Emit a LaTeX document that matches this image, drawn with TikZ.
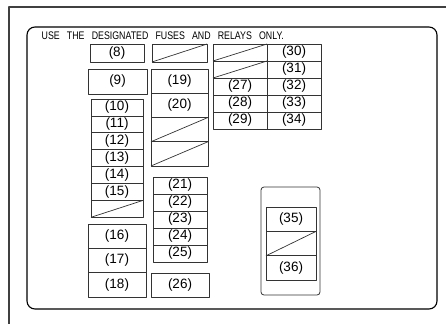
\documentclass[tikz,border=0pt]{standalone}
\usepackage{fontspec}
\setmainfont{Liberation Sans}
\usetikzlibrary{positioning}

\begin{document}
\begin{tikzpicture}[x=1pt, y=-1pt, line join=round,
    box/.style 2 args={draw=black!80, line width=0.7pt, inner sep=0pt, outer sep=0pt, minimum width=#1, minimum height=#2, font=\fontsize{13.5}{14}\selectfont},
    slash/.style={draw=black!80, line width=0.7pt}]
  \useasboundingbox (0,0) rectangle (446,324);
  \draw[black!75, line width=1.5pt] (446,7) -- (9,7) -- (9,324);
  \node[draw, line width=1.1pt, rounded corners=8pt, inner sep=0pt, minimum width=410pt, minimum height=282pt] (panel) at (232,168) {};
  \node[anchor=base west, inner sep=0pt, font=\fontsize{11}{12}\selectfont] (notice) at (41.5,39.5) {\scalebox{0.8}[1]{\spaceskip=9pt USE THE DESIGNATED FUSES AND RELAYS ONLY.}};

  \node[box={54pt}{18pt}] (f8) at (117,53) {(8)};
  \node[box={59pt}{25pt}] (f9) at (117.5,81.5) {(9)};
  \node[box={52pt}{16.9pt}] (f10) at (117,107.45) {(10)};
  \node[box={52pt}{16.9pt}, below=0pt of f10] (f11) {(11)};
  \node[box={52pt}{16.9pt}, below=0pt of f11] (f12) {(12)};
  \node[box={52pt}{16.9pt}, below=0pt of f12] (f13) {(13)};
  \node[box={52pt}{16.9pt}, below=0pt of f13] (f14) {(14)};
  \node[box={52pt}{16.9pt}, below=0pt of f14] (f15) {(15)};
  \node[box={52pt}{16.9pt}, below=0pt of f15] (s15) {};
  \node[box={58pt}{24.3pt}] (f16) at (117,236.15) {(16)};
  \node[box={58pt}{24.3pt}, below=0pt of f16] (f17) {(17)};
  \node[box={58pt}{24.3pt}, below=0pt of f17] (f18) {(18)};

  \node[box={55pt}{18pt}] (s8) at (179.5,53) {};
  \node[box={57pt}{24.25pt}] (f19) at (179.5,81.1) {(19)};
  \node[box={57pt}{24.25pt}, below=0pt of f19] (f20) {(20)};
  \node[box={57pt}{24.25pt}, below=0pt of f20] (s20a) {};
  \node[box={57pt}{24.25pt}, below=0pt of s20a] (s20b) {};
  \node[box={54pt}{17pt}] (f21) at (180,185.5) {(21)};
  \node[box={54pt}{17pt}, below=0pt of f21] (f22) {(22)};
  \node[box={54pt}{17pt}, below=0pt of f22] (f23) {(23)};
  \node[box={54pt}{17pt}, below=0pt of f23] (f24) {(24)};
  \node[box={54pt}{17pt}, below=0pt of f24] (f25) {(25)};
  \node[box={58pt}{24pt}] (f26) at (180,285) {(26)};

  \node[box={54pt}{17pt}] (s30) at (240,52.5) {};
  \node[box={54pt}{17pt}, right=0pt of s30] (f30) {(30)};
  \node[box={54pt}{17pt}, below=0pt of s30] (s31) {};
  \node[box={54pt}{17pt}, below=0pt of f30] (f31) {(31)};
  \node[box={54pt}{17pt}, below=0pt of s31] (f27) {(27)};
  \node[box={54pt}{17pt}, below=0pt of f31] (f32) {(32)};
  \node[box={54pt}{17pt}, below=0pt of f27] (f28) {(28)};
  \node[box={54pt}{17pt}, below=0pt of f32] (f33) {(33)};
  \node[box={54pt}{17pt}, below=0pt of f28] (f29) {(29)};
  \node[box={54pt}{17pt}, below=0pt of f33] (f34) {(34)};

  \node[draw=black!80, line width=0.8pt, rounded corners=3pt, inner sep=0pt, minimum width=59pt, minimum height=108pt] (relay) at (290.5,241) {};
  \node[box={50pt}{24.4pt}] (f35) at (291,219.2) {(35)};
  \node[box={50pt}{24.4pt}, below=0pt of f35] (s35) {};
  \node[box={50pt}{24.4pt}, below=0pt of s35] (f36) {(36)};

  \path[slash]
    (s8.south west) -- (s8.north east)
    (s15.south west) -- (s15.north east)
    (s20a.south west) -- (s20a.north east)
    (s20b.south west) -- (s20b.north east)
    (s30.south west) -- (s30.north east)
    (s31.south west) -- (s31.north east)
    (s35.south west) -- (s35.north east);
\end{tikzpicture}
\end{document}
